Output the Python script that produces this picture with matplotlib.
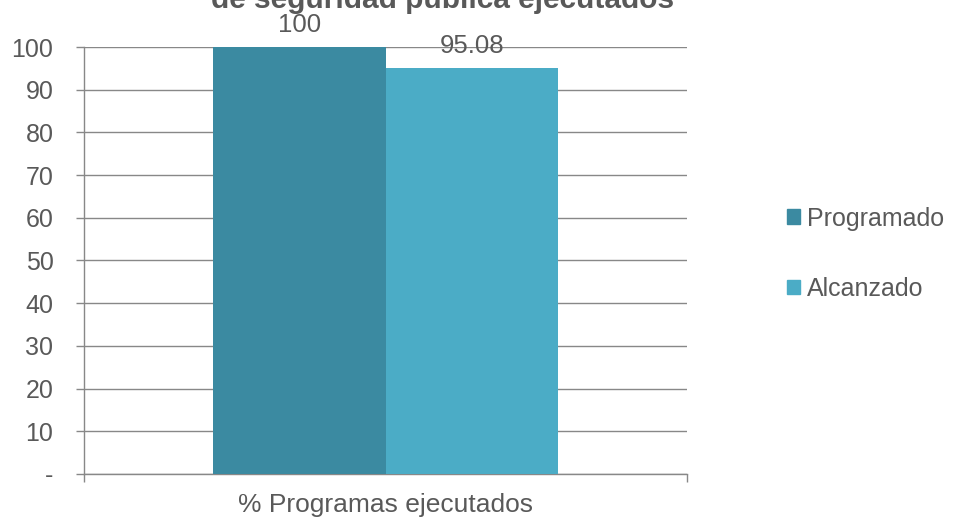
import matplotlib.pyplot as plt
from matplotlib.patches import Patch
from matplotlib.ticker import FixedLocator

categories = ["% Programas ejecutados"]
series_names = ["Programado", "Alcanzado"]
series_values = [[100], [95.08]]
value_labels = [["100"], ["95.08"]]
yticks = [0, 10, 20, 30, 40, 50, 60, 70, 80, 90, 100]
ytick_labels = ["-", "10", "20", "30", "40", "50", "60", "70", "80", "90", "100"]
title = "de seguridad pública ejecutados"

colors = ["#3B8AA1", "#4BACC6"]
text_color = "#595959"
grid_color = "#888888"

plt.rcParams["font.family"] = ["Liberation Sans", "DejaVu Sans"]

fig = plt.figure(figsize=(9.55, 5.2), dpi=100)
ax = fig.add_axes([0.088, 0.0885, 0.6314, 0.8211])

width = 0.286
for i, (name, vals) in enumerate(zip(series_names, series_values)):
    xs = [k + (i - 0.5) * width for k in range(len(categories))]
    ax.bar(xs, vals, width=width, color=colors[i], zorder=3, label=name)
    for x, v, lab in zip(xs, vals, value_labels[i]):
        ax.annotate(lab, (x, v), xytext=(0, 7), textcoords="offset points",
                    ha="center", va="bottom", fontsize=18.5, color=text_color, zorder=4)

ax.set_xlim(-0.5, len(categories) - 0.5)
ax.set_ylim(0, 100)
ax.set_yticks(yticks)
ax.set_yticklabels(ytick_labels)
ax.set_xticks(range(len(categories)))
ax.set_xticklabels(categories)
ax.xaxis.set_minor_locator(FixedLocator([-0.5, len(categories) - 0.5]))

ax.grid(axis="y", color=grid_color, linewidth=1.0, zorder=0)
ax.tick_params(axis="y", length=6, width=1, color=grid_color, pad=16,
               labelsize=18, labelcolor=text_color)
ax.tick_params(axis="x", which="major", length=0, pad=14,
               labelsize=19, labelcolor=text_color)
ax.tick_params(axis="x", which="minor", length=6, width=1, color=grid_color)

for s in ["top", "right"]:
    ax.spines[s].set_visible(False)
for s in ["left", "bottom"]:
    ax.spines[s].set_color(grid_color)
    ax.spines[s].set_linewidth(1.0)

handles = [Patch(color=c, label=n) for c, n in zip(colors, series_names)]
fig.legend(handles=handles, loc="center left", bbox_to_anchor=(0.8, 0.512),
           frameon=False, fontsize=18, labelcolor=text_color,
           handlelength=0.52, handleheight=0.52, handletextpad=0.3,
           labelspacing=1.85)

fig.text(0.463, 0.984, title, ha="center", va="baseline", fontsize=21.5,
         fontweight="bold", color=text_color)

fig.savefig("out.png", dpi=100)
